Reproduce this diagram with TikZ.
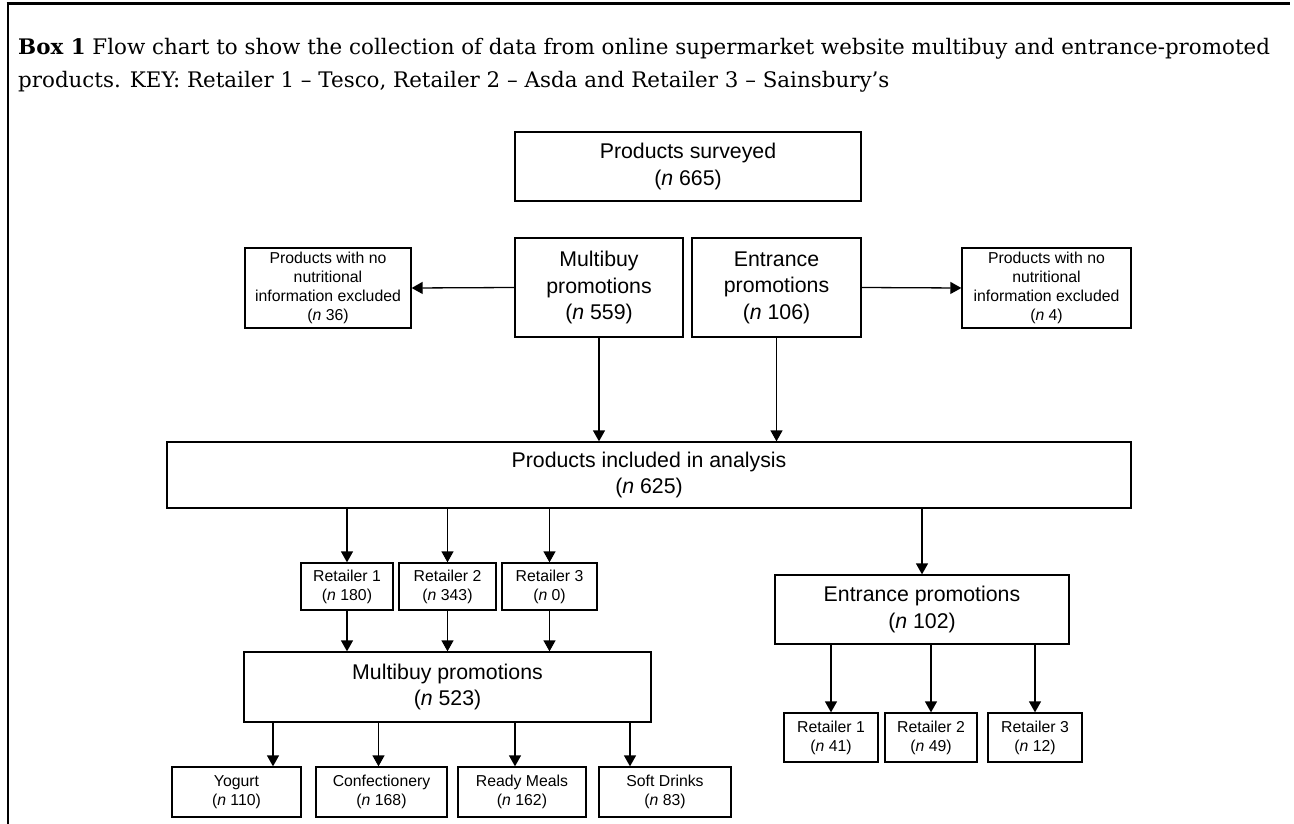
\documentclass[tikz,border=0pt]{standalone}
\usepackage{fontspec}
\setmainfont{DejaVu Serif}
\newfontfamily\chartfont{Liberation Sans}
\usetikzlibrary{arrows.meta}
\newcommand{\samplen}[1]{(\textit{n}~#1)}
\tikzset{
  bigbox/.style={draw, line width=1.3pt, align=center, inner sep=0pt,
    font=\chartfont\fontsize{21.3}{26.5}\selectfont},
  smallbox/.style={draw, line width=1.3pt, align=center, inner sep=0pt,
    font=\chartfont\fontsize{15.8}{19}\selectfont},
  arr/.style={-{Triangle[length=11pt,width=12pt]}, line width=1.3pt}
}
\begin{document}
\begin{tikzpicture}[x=1pt,y=-1pt]
 \useasboundingbox (0,0) rectangle (1294,824);
 % frame and caption
 \draw[line width=3pt] (6.5,4) -- (1290,4);
 \draw[line width=2pt] (8,4) -- (8,824);
 \node[anchor=north west, inner sep=0pt, align=left,
   font=\fontsize{21.4}{33}\selectfont] (cap) at (18,38)
   {\textbf{Box 1} Flow chart to show the collection of data from online supermarket website multibuy and entrance-promoted\\
    products. KEY: Retailer 1 – Tesco, Retailer 2 – Asda and Retailer 3 – Sainsbury’s};

 % top rows
 \node[bigbox, minimum width=346pt, minimum height=69pt] (surv) at (688,166.5) {Products surveyed\\\samplen{665}};
 \node[bigbox, minimum width=168pt, minimum height=99pt] (mb) at (599,287.5) {Multibuy\\promotions\\\samplen{559}};
 \node[bigbox, minimum width=169pt, minimum height=99pt] (en) at (776.5,287.5) {Entrance\\promotions\\\samplen{106}};
 \node[smallbox, minimum width=166pt, minimum height=80pt] (exl) at (328,288) {Products with no\\nutritional\\information excluded\\\samplen{36}};
 \node[smallbox, minimum width=169pt, minimum height=80pt] (exr) at (1046.5,288) {Products with no\\nutritional\\information excluded\\\samplen{4}};
 \node[bigbox, minimum width=964pt, minimum height=66pt] (an) at (649,475) {Products included in analysis\\\samplen{625}};

 % multibuy branch
 \node[smallbox, minimum width=92pt, minimum height=47pt] (mr1) at (347,586.5) {Retailer 1\\\samplen{180}};
 \node[smallbox, minimum width=97pt, minimum height=47pt] (mr2) at (447.5,586.5) {Retailer 2\\\samplen{343}};
 \node[smallbox, minimum width=95pt, minimum height=47pt] (mr3) at (549.5,586.5) {Retailer 3\\\samplen{0}};
 \node[bigbox, minimum width=407pt, minimum height=70pt] (mb2) at (447.5,687) {Multibuy promotions\\\samplen{523}};
 \node[smallbox, minimum width=129pt, minimum height=50pt] (yog) at (236.5,792) {Yogurt\\\samplen{110}};
 \node[smallbox, minimum width=131pt, minimum height=50pt] (con) at (381.5,792) {Confectionery\\\samplen{168}};
 \node[smallbox, minimum width=128pt, minimum height=50pt] (rdy) at (522,792) {Ready Meals\\\samplen{162}};
 \node[smallbox, minimum width=132pt, minimum height=50pt] (sft) at (665,792) {Soft Drinks\\\samplen{83}};

 % entrance branch
 \node[bigbox, minimum width=294pt, minimum height=69pt] (en2) at (922,609.5) {Entrance promotions\\\samplen{102}};
 \node[smallbox, minimum width=94pt, minimum height=49pt] (er1) at (831,737.5) {Retailer 1\\\samplen{41}};
 \node[smallbox, minimum width=92pt, minimum height=49pt] (er2) at (931,737.5) {Retailer 2\\\samplen{49}};
 \node[smallbox, minimum width=94pt, minimum height=49pt] (er3) at (1035,737.5) {Retailer 3\\\samplen{12}};

 % connectors
 \draw[arr] (mb.west) -- (exl.east);
 \draw[arr] (en.east) -- (exr.west);
 \draw[arr] (mb.south) -- (mb.south |- an.north);
 \draw[arr] (en.south) -- (en.south |- an.north);
 \foreach \r in {mr1,mr2,mr3}
   {\draw[arr] (\r.north |- an.south) -- (\r.north);
    \draw[arr] (\r.south) -- (\r.south |- mb2.north);}
 \draw[arr] (en2.north |- an.south) -- (en2.north);
 \foreach \r in {er1,er2,er3}
   \draw[arr] (\r.north |- en2.south) -- (\r.north);
 \draw[arr] ([xshift=36.5pt]yog.north |- mb2.south) -- ([xshift=36.5pt]yog.north);
 \draw[arr] ([xshift=-3pt]con.north |- mb2.south) -- ([xshift=-3pt]con.north);
 \draw[arr] ([xshift=-7pt]rdy.north |- mb2.south) -- ([xshift=-7pt]rdy.north);
 \draw[arr] ([xshift=-35pt]sft.north |- mb2.south) -- ([xshift=-35pt]sft.north);
\end{tikzpicture}
\end{document}
